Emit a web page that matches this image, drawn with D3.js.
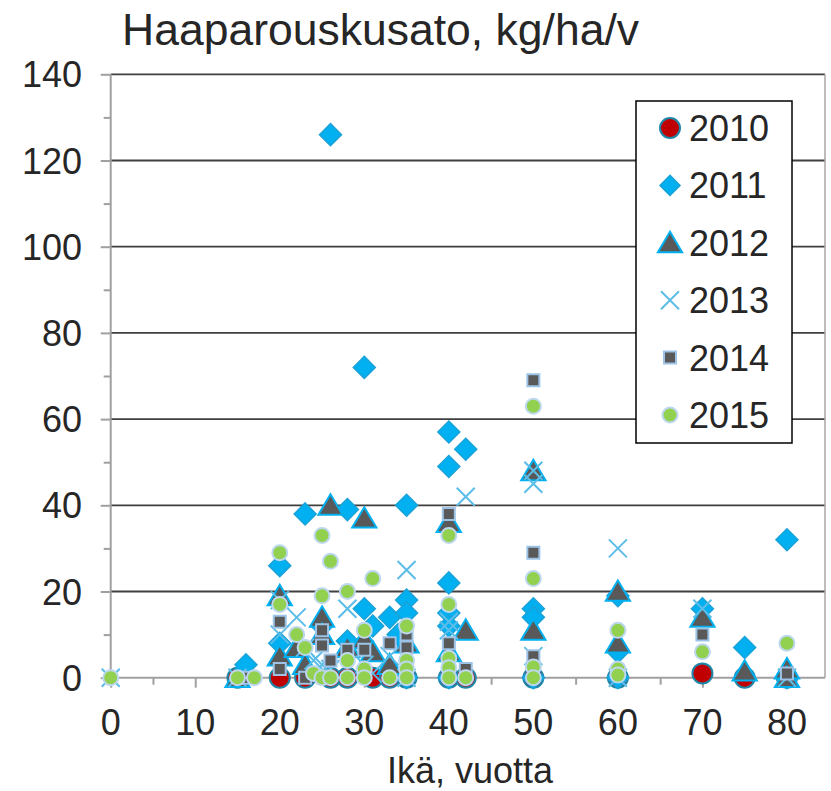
<!DOCTYPE html>
<html>
<head>
<meta charset="utf-8">
<script src="https://cdn.jsdelivr.net/npm/d3@7"></script>
<style>
  body { margin: 0; background: #fff; }
  svg { display: block; font-family: "Liberation Sans", Arial, sans-serif; }
</style>
</head>
<body>
<div id="chart"></div>
<script>
// data: [age, kg/ha/v]
const years = ["2010", "2011", "2012", "2013", "2014", "2015"];

const s2010 = [[15,0],[20,0],[23,0],[26,0],[28,0],[31,0],[33,0],[35,0],[40,0],[42,0],[50,0],[60,0],[70,1],[75,0],[80,0]];
const s2011 = [[16,3],[20,26],[20,8],[23,38],[25,12],[26,126],[28,39],[28,8.5],[30,72],[30,16],[31,12],[33,14],[34,10],[35,40],[35,18],[35,15],[35,0],
  [40,57],[40,49],[40,22],[40,15],[40,12],[40,0],[42,53],[50,16],[50,14],[50,0],[60,19],[60,6],[60,0],[70,16],[75,7],[80,32],[80,0]];
const s2012 = [[15,0],[20,19],[20,5],[22,7],[23,3],[25,14],[25,10],[26,40],[28,7],[30,37],[30,9],[31,6],[33,3],[35,8],[40,36],[40,6],
  [42,11],[50,48],[50,11],[60,20],[60,8],[70,14],[75,1.5],[80,2],[80,0]];
const s2013 = [[0,0],[15,0],[20,18],[20,10],[22,14],[23,7],[24,4],[25,3],[26,2],[28,16],[30,3],[31,1],[33,5],[35,25],[35,0],[40,13],[40,11],
  [42,42],[50,48],[50,45],[50,5],[60,30],[60,0],[70,16],[80,0]];
const s2014 = [[16,0],[20,13],[20,2],[23,0],[25,11],[25,7.5],[26,4],[28,6.5],[30,6.5],[33,8],[35,10],[35,7],[40,38],[40,8],[42,2],
  [50,69],[50,29],[50,5],[60,1],[70,10],[80,1]];
const s2015 = [[0,0],[15,0],[17,0],[20,29],[20,17],[22,10],[23,7],[24,1],[25,33],[25,19],[25,0],[26,27],[26,0],[28,20],[28,4],[28,0],
  [30,11],[30,2],[30,0],[31,23],[33,0],[35,12],[35,4],[35,2],[35,0],[40,33],[40,17],[40,4.5],[40,2.3],[40,0],[42,0],
  [50,63],[50,23],[50,2.5],[50,0],[60,11],[60,2],[60,0.6],[70,6],[80,8]];

const xTicks = [0, 10, 20, 30, 40, 50, 60, 70, 80];
const yTicks = [0, 20, 40, 60, 80, 100, 120, 140];

const width = 831, height = 791;

const x = d3.scaleLinear().domain([0, 84.5]).range([110.7, 825]);
const y = d3.scaleLinear().domain([0, 140]).range([677.7, 74.3]);

const svg = d3.select("#chart").append("svg")
    .attr("width", width)
    .attr("height", height);

// marker shapes
const shapes = {
    circle: r => `M${-r},0A${r},${r} 0 1,0 ${r},0A${r},${r} 0 1,0 ${-r},0Z`,
    diamond: r => `M0,${-r}L${r},0L0,${r}L${-r},0Z`,
    triangle: r => `M0,${-r}L${r * 1.1},${r * 0.85}L${-r * 1.1},${r * 0.85}Z`,
    cross: r => `M${-r},${-r}L${r},${r}M${r},${-r}L${-r},${r}`,
    square: r => `M${-r},${-r}H${r}V${r}H${-r}Z`
};

const styles = [
    { shape: "circle", r: 10, fill: "#C00000", stroke: "#1F86A8", sw: 2 },
    { shape: "diamond", r: 11, fill: "#00B0F0", stroke: "#1BA2D8", sw: 1.5 },
    { shape: "triangle", r: 11, fill: "#595959", stroke: "#00B0F0", sw: 2 },
    { shape: "cross", r: 9, fill: "none", stroke: "#5BBDE8", sw: 2 },
    { shape: "square", r: 6, fill: "#595959", stroke: "#9DC3E6", sw: 2 },
    { shape: "circle", r: 7.5, fill: "#92D050", stroke: "#BDD7EE", sw: 2 }
];

const series = [s2010, s2011, s2012, s2013, s2014, s2015];

// gridlines
svg.append("g")
    .selectAll("line")
    .data(yTicks.filter(d => d > 0))
    .enter()
    .append("line")
    .attr("x1", x(0))
    .attr("x2", x(84.5))
    .attr("y1", d => y(d))
    .attr("y2", d => y(d))
    .attr("stroke", "#3f3f3f")
    .attr("stroke-width", 1.8);

// right border
svg.append("line")
    .attr("x1", x(84.5)).attr("x2", x(84.5))
    .attr("y1", y(140)).attr("y2", y(0))
    .attr("stroke", "#a6a6a6")
    .attr("stroke-width", 1.5);

// y axis
const yAxis = svg.append("g")
    .attr("transform", `translate(${x(0)},0)`)
    .call(d3.axisLeft(y).tickValues(d3.range(0, 141, 10)).tickSize(7).tickFormat(""));
yAxis.selectAll(".tick line").filter(d => d % 20 === 0).attr("x2", -10);
yAxis.selectAll("line, path").attr("stroke", "#a0a0a0").attr("stroke-width", 2);
yAxis.select(".domain").attr("d", `M0,${y(140)}V${y(0)}`);

svg.append("g")
    .selectAll("text")
    .data(yTicks)
    .enter()
    .append("text")
    .attr("x", 82)
    .attr("y", d => y(d) + 13)
    .attr("text-anchor", "end")
    .attr("fill", "#262626")
    .style("font-size", "36px")
    .text(d => d);

// x axis
const xAxis = svg.append("g")
    .attr("transform", `translate(0,${y(0)})`)
    .call(d3.axisBottom(x).tickValues(d3.range(0, 81, 5)).tickSize(7).tickFormat(""));
xAxis.selectAll(".tick line").filter(d => d % 10 === 0).attr("y2", 10);
xAxis.selectAll("line, path").attr("stroke", "#a0a0a0").attr("stroke-width", 2);
xAxis.select(".domain").attr("d", `M${x(0)},0H${x(84.5)}`);

svg.append("g")
    .selectAll("text")
    .data(xTicks)
    .enter()
    .append("text")
    .attr("x", d => x(d))
    .attr("y", 735)
    .attr("text-anchor", "middle")
    .attr("fill", "#262626")
    .style("font-size", "36px")
    .text(d => d);

// points
series.forEach((data, i) => {
    const st = styles[i];
    svg.append("g")
        .selectAll("path")
        .data(data)
        .enter()
        .append("path")
        .attr("transform", d => `translate(${x(d[0])},${y(d[1])})`)
        .attr("d", shapes[st.shape](st.r))
        .attr("fill", st.fill)
        .attr("stroke", st.stroke)
        .attr("stroke-width", st.sw);
});

// title
svg.append("text")
    .attr("x", 122)
    .attr("y", 45)
    .attr("fill", "#262626")
    .style("font-size", "44.5px")
    .text("Haaparouskusato, kg/ha/v");

// axis title
svg.append("text")
    .attr("x", 470)
    .attr("y", 783)
    .attr("text-anchor", "middle")
    .attr("fill", "#262626")
    .style("font-size", "36px")
    .text("Ikä, vuotta");

// legend
const legend = svg.append("g");
legend.append("rect")
    .attr("x", 636)
    .attr("y", 101)
    .attr("width", 156)
    .attr("height", 342)
    .attr("fill", "#fff")
    .attr("stroke", "#000")
    .attr("stroke-width", 1.5);

const rows = legend.selectAll(".row")
    .data(years)
    .enter()
    .append("g")
    .attr("class", "row")
    .attr("transform", (d, i) => `translate(670,${128 + i * 57.4})`);

rows.append("path")
    .attr("d", (d, i) => shapes[styles[i].shape](styles[i].shape === "diamond" ? 10 : styles[i].r))
    .attr("fill", (d, i) => styles[i].fill)
    .attr("stroke", (d, i) => styles[i].stroke)
    .attr("stroke-width", (d, i) => styles[i].sw);

rows.append("text")
    .attr("x", 19)
    .attr("y", 13)
    .attr("fill", "#262626")
    .style("font-size", "36px")
    .text(d => d);
</script>
</body>
</html>
